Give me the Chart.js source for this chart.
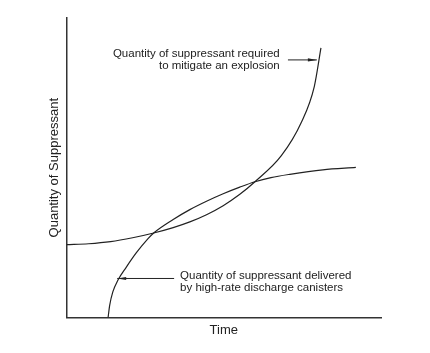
<!DOCTYPE html>
<html>
<head>
<meta charset="utf-8">
<script src="https://cdn.jsdelivr.net/npm/chart.js@4.4.1/dist/chart.umd.min.js"></script>
<style>
  html, body { margin: 0; padding: 0; background: #fff; }
  #wrap { width: 430px; height: 353px; }
</style>
</head>
<body>
<div id="wrap"><canvas id="chart"></canvas></div>
<script>
// curve: delivered by high-rate discharge canisters
const deliveredX = [13.2, 13.7, 14.7, 16.3, 19.0, 22.2, 25.9, 27.7, 33.9, 39.2, 44.5, 49.8, 55.1, 59.9, 65.0, 71.0, 81.5, 92.0];
const deliveredY = [0, 4.0, 8.5, 12.4, 16.8, 21.6, 26.3, 28.2, 32.7, 36.0, 38.8, 41.3, 43.5, 45.3, 46.7, 47.8, 49.3, 50.1];

// curve: required to mitigate an explosion
const requiredX = [0, 7.0, 14.0, 21.0, 27.7, 33.9, 39.2, 44.5, 49.8, 55.1, 59.9, 68.3, 74.6, 78.8, 80.9];
const requiredY = [24.3, 24.6, 25.3, 26.6, 28.2, 30.0, 31.9, 34.3, 37.3, 41.1, 45.3, 54.0, 65.0, 77.2, 90.0];

const xTitle = "Time";
const yTitle = "Quantity of Suppressant";

const FONT = "'Liberation Sans', Arial, Helvetica, sans-serif";
const INK = "#222";

function toPoints(xs, ys) {
  return xs.map((x, i) => ({ x: x, y: ys[i] }));
}

// callouts, placed in data units
const notes = [
  {
    lines: ["Quantity of suppressant required", "to mitigate an explosion"],
    x: 67.8, y: 88.0, align: "right",
    arrow: { from: [70.4, 86.0], to: [79.6, 86.0] },
  },
  {
    lines: ["Quantity of suppressant delivered", "by high-rate discharge canisters"],
    x: 36.1, y: 14.0, align: "left",
    arrow: { from: [34.2, 13.0], to: [16.1, 13.0] },
  },
];

const calloutPlugin = {
  id: "callouts",
  afterDatasetsDraw(chart) {
    const { ctx, scales } = chart;
    const sx = scales.x, sy = scales.y;
    ctx.save();
    ctx.font = "11.5px " + FONT;
    ctx.fillStyle = INK;
    ctx.strokeStyle = INK;
    ctx.textBaseline = "middle";
    notes.forEach((n) => {
      ctx.textAlign = n.align;
      const px = sx.getPixelForValue(n.x);
      const py = sy.getPixelForValue(n.y);
      n.lines.forEach((line, i) => ctx.fillText(line, px, py + i * 12));

      const x1 = sx.getPixelForValue(n.arrow.from[0]);
      const y1 = sy.getPixelForValue(n.arrow.from[1]);
      const x2 = sx.getPixelForValue(n.arrow.to[0]);
      const y2 = sy.getPixelForValue(n.arrow.to[1]);
      ctx.lineWidth = 1;
      ctx.beginPath();
      ctx.moveTo(x1, y1);
      ctx.lineTo(x2, y2);
      ctx.stroke();
      // small solid head
      const dir = Math.sign(x2 - x1);
      ctx.beginPath();
      ctx.moveTo(x2, y2);
      ctx.lineTo(x2 - dir * 9, y2 - 1.6);
      ctx.lineTo(x2 - dir * 9, y2 + 1.6);
      ctx.closePath();
      ctx.fill();
    });
    ctx.restore();
  },
};

new Chart(document.getElementById("chart"), {
  type: "scatter",
  data: {
    datasets: [
      {
        label: "Delivered",
        data: toPoints(deliveredX, deliveredY),
        showLine: true,
        borderColor: INK,
        borderWidth: 1.2,
        pointRadius: 0,
        cubicInterpolationMode: "monotone",
      },
      {
        label: "Required",
        data: toPoints(requiredX, requiredY),
        showLine: true,
        borderColor: INK,
        borderWidth: 1.2,
        pointRadius: 0,
        cubicInterpolationMode: "monotone",
      },
    ],
  },
  options: {
    responsive: true,
    maintainAspectRatio: false,
    animation: false,
    layout: {
      padding: { left: 47, right: 49, top: 18, bottom: 15 },
    },
    plugins: {
      legend: { display: false },
      tooltip: { enabled: false },
    },
    scales: {
      x: {
        type: "linear",
        min: 0,
        max: 100,
        grid: { display: false, drawTicks: false },
        border: { display: true, color: "#333", width: 1.5 },
        ticks: { display: false },
        title: {
          display: true,
          text: xTitle,
          color: INK,
          font: { family: FONT, size: 13 },
          padding: { top: 5, bottom: 0 },
        },
      },
      y: {
        type: "linear",
        min: 0,
        max: 100,
        grid: { display: false, drawTicks: false },
        border: { display: true, color: "#333", width: 1.5 },
        ticks: { display: false },
        title: {
          display: true,
          text: yTitle,
          color: INK,
          font: { family: FONT, size: 13 },
          padding: { top: 0, bottom: 4 },
        },
      },
    },
  },
  plugins: [calloutPlugin],
});
</script>
</body>
</html>
